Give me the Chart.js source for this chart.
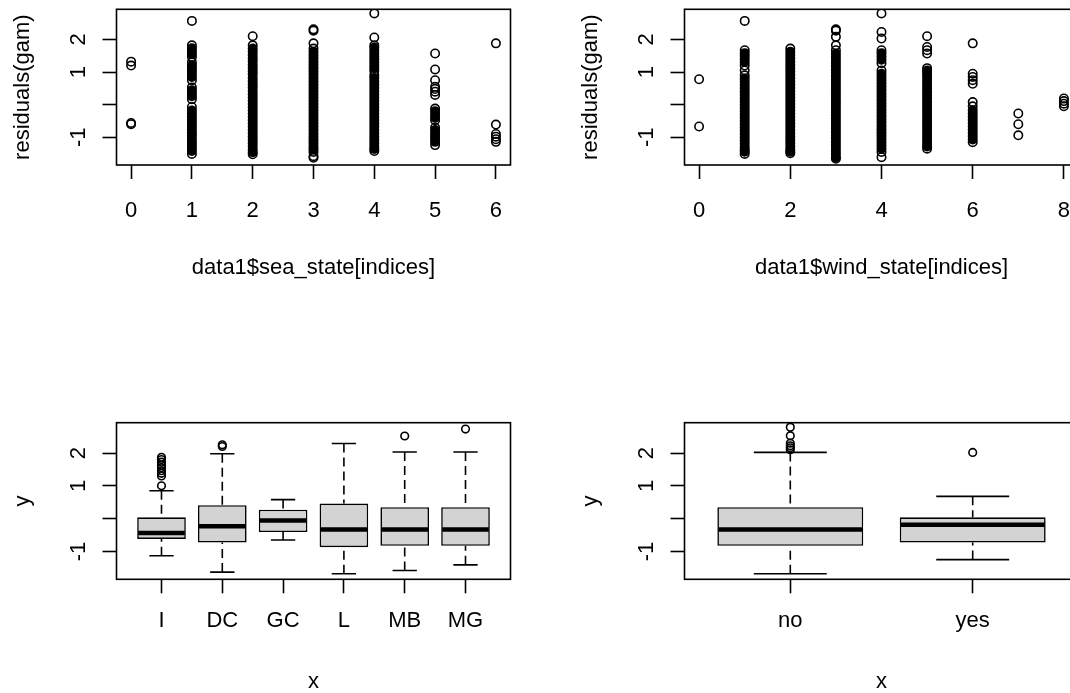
<!DOCTYPE html>
<html>
<head>
<meta charset="utf-8">
<script src="https://cdn.jsdelivr.net/npm/chart.js@4.4.0/dist/chart.umd.min.js"></script>
<style>
html,body{margin:0;padding:0;background:#fff;overflow:hidden;width:1070px;height:693px;}
#wrap{position:relative;width:1136px;height:826px;}
.p{position:absolute;width:568px;height:413px;}
canvas{display:block;}
</style>
</head>
<body>
<div id="wrap">
  <div class="p" style="left:0;top:0"><canvas id="c1" width="568" height="413"></canvas></div>
  <div class="p" style="left:568px;top:0"><canvas id="c2" width="568" height="413"></canvas></div>
  <div class="p" style="left:0;top:413px"><canvas id="c3" width="568" height="413"></canvas></div>
  <div class="p" style="left:568px;top:413px"><canvas id="c4" width="568" height="413"></canvas></div>
</div>
<script>
// ---------- data ----------
const residTicks = [-1, 0, 1, 2];
const residTickLabels = ['-1', '', '1', '2'];

// residuals(gam) by data1$sea_state[indices]
const seaStateLevels = [0, 1, 2, 3, 4, 5, 6];
const seaState0 = [1.32, 1.20, -0.56, -0.60];
const seaState1 = [2.57, 1.82, 1.73, 1.64, 1.55, 1.46, 1.30, 1.21, 1.12, 1.03, 0.94, 0.85, 0.75, 0.53, 0.44, 0.35, 0.26, 0.17, -0.07, -0.18, -0.27, -0.37, -0.47, -0.57, -0.66, -0.76, -0.86, -0.95, -1.05, -1.15, -1.24, -1.34, -1.42, -1.51];
const seaState2 = [2.10, 1.82, 1.72, 1.63, 1.52, 1.42, 1.33, 1.22, 1.12, 1.02, 0.93, 0.82, 0.72, 0.62, 0.53, 0.42, 0.32, 0.22, 0.12, 0.02, -0.08, -0.18, -0.28, -0.38, -0.48, -0.58, -0.68, -0.78, -0.88, -0.98, -1.08, -1.18, -1.28, -1.38, -1.46, -1.52];
const seaState3 = [2.31, 2.27, 1.88, 1.72, 1.62, 1.52, 1.42, 1.32, 1.22, 1.12, 1.02, 0.92, 0.82, 0.72, 0.62, 0.52, 0.42, 0.32, 0.22, 0.12, 0.02, -0.08, -0.18, -0.28, -0.38, -0.48, -0.58, -0.68, -0.78, -0.88, -0.98, -1.08, -1.18, -1.28, -1.37, -1.45, -1.58, -1.63];
const seaState4 = [2.80, 2.06, 1.82, 1.75, 1.66, 1.57, 1.48, 1.39, 1.30, 1.21, 1.12, 1.03, 0.90, 0.82, 0.72, 0.62, 0.52, 0.42, 0.32, 0.22, 0.12, 0.02, -0.08, -0.18, -0.28, -0.38, -0.48, -0.58, -0.68, -0.78, -0.88, -0.98, -1.08, -1.18, -1.28, -1.36, -1.42];
const seaState5 = [1.57, 1.08, 0.75, 0.55, 0.48, 0.40, 0.30, -0.12, -0.20, -0.30, -0.40, -0.48, -0.70, -0.78, -0.88, -0.97, -1.05, -1.14, -1.24];
const seaState6 = [1.88, -0.61, -0.90, -0.98, -1.06, -1.14];

// residuals(gam) by data1$wind_state[indices]
const windStateLevels = [0, 1, 2, 3, 4, 5, 6, 7, 8];
const windState0 = [0.78, -0.67];
const windState1 = [2.57, 1.67, 1.58, 1.49, 1.40, 1.31, 1.20, 1.05, 0.90, 0.80, 0.70, 0.60, 0.50, 0.40, 0.30, 0.20, 0.10, 0.00, -0.10, -0.20, -0.30, -0.40, -0.50, -0.60, -0.70, -0.80, -0.90, -1.00, -1.10, -1.20, -1.30, -1.38, -1.44, -1.51];
const windState2 = [1.72, 1.62, 1.52, 1.42, 1.32, 1.22, 1.12, 1.02, 0.92, 0.82, 0.72, 0.62, 0.52, 0.42, 0.32, 0.22, 0.12, 0.02, -0.08, -0.18, -0.28, -0.38, -0.48, -0.58, -0.68, -0.78, -0.88, -0.98, -1.08, -1.18, -1.28, -1.38, -1.44, -1.49];
const windState3 = [2.31, 2.27, 2.08, 1.82, 1.67, 1.57, 1.47, 1.37, 1.27, 1.17, 1.07, 0.97, 0.87, 0.77, 0.67, 0.57, 0.47, 0.37, 0.27, 0.17, 0.07, -0.03, -0.13, -0.23, -0.33, -0.43, -0.53, -0.63, -0.73, -0.83, -0.93, -1.03, -1.13, -1.23, -1.33, -1.43, -1.52, -1.62, -1.66];
const windState4 = [2.80, 2.23, 2.03, 1.67, 1.58, 1.48, 1.38, 1.27, 1.05, 0.95, 0.85, 0.75, 0.65, 0.55, 0.45, 0.35, 0.25, 0.15, 0.05, -0.05, -0.15, -0.25, -0.35, -0.45, -0.55, -0.65, -0.75, -0.85, -0.95, -1.05, -1.15, -1.25, -1.35, -1.45, -1.61];
const windState5 = [2.10, 1.77, 1.67, 1.57, 1.12, 1.05, 0.99, 0.90, 0.80, 0.70, 0.60, 0.50, 0.40, 0.30, 0.20, 0.10, 0.00, -0.10, -0.20, -0.30, -0.40, -0.50, -0.60, -0.70, -0.80, -0.90, -1.00, -1.10, -1.20, -1.28, -1.35];
const windState6 = [1.88, 0.95, 0.85, 0.75, 0.64, 0.08, -0.05, -0.17, -0.27, -0.37, -0.47, -0.57, -0.67, -0.77, -0.87, -0.97, -1.07, -1.15];
const windState7 = [-0.27, -0.60, -0.94];
const windState8 = [0.19, 0.11, 0.03, -0.05];

// boxplot y ~ x (six groups)
const groupCats = ['I', 'DC', 'GC', 'L', 'MB', 'MG'];
const groupWhiskerLo = [-1.13, -1.63, -0.65, -1.68, -1.58, -1.41];
const groupQ1 = [-0.62, -0.73, -0.41, -0.87, -0.83, -0.83];
const groupMedian = [-0.44, -0.23, -0.06, -0.33, -0.33, -0.33];
const groupQ3 = [0.04, 0.41, 0.27, 0.46, 0.35, 0.35];
const groupWhiskerHi = [0.85, 1.98, 0.58, 2.29, 2.03, 2.03];
const groupOutliers = [[1.00, 1.30, 1.38, 1.46, 1.55, 1.63, 1.72, 1.80, 1.87], [2.20, 2.25], [], [], [2.52], [2.73]];

// boxplot y ~ x (no / yes)
const flagCats = ['no', 'yes'];
const flagWhiskerLo = [-1.68, -1.25];
const flagQ1 = [-0.83, -0.73];
const flagMedian = [-0.33, -0.19];
const flagQ3 = [0.35, 0.04];
const flagWhiskerHi = [2.02, 0.68];
const flagOutliers = [[2.10, 2.16, 2.22, 2.30, 2.53, 2.79], [2.02]];

// ---------- styling / helpers ----------
const FONT_FAMILY = "'Liberation Sans', Arial, Helvetica, sans-serif";
const FS = 22;
const Y_MIN = -1.85, Y_MAX = 2.925;

const rFrame = {
  id: 'rFrame',
  afterDraw(chart) {
    const {ctx, chartArea: a} = chart;
    const ys = chart.scales.y;
    ctx.save();
    ctx.strokeStyle = '#000';
    ctx.lineWidth = 1.6;
    ctx.strokeRect(a.left, a.top, a.right - a.left, a.bottom - a.top);
    ctx.fillStyle = '#000';
    ctx.font = FS + 'px ' + FONT_FAMILY;
    ctx.textAlign = 'center';
    ctx.textBaseline = 'middle';
    residTicks.forEach((v, i) => {
      const lab = residTickLabels[i];
      if (!lab) return;
      ctx.save();
      ctx.translate(a.left - 38, ys.getPixelForValue(v));
      ctx.rotate(-Math.PI / 2);
      ctx.fillText(lab, 0, 0);
      ctx.restore();
    });
    ctx.restore();
  }
};

function rAxes(o) {
  const font = {family: FONT_FAMILY, size: FS};
  const grid = {display: true, offset: false, drawOnChartArea: false, drawTicks: true, tickLength: 14, tickWidth: 1.6, tickColor: '#000'};
  return {
    x: {
      type: 'linear', min: o.xMin, max: o.xMax, offset: false,
      afterBuildTicks: s => { s.ticks = o.xTicks.map(v => ({value: v})); },
      afterFit: s => { s.height = o.xAxisH; },
      grid: grid,
      border: {display: false},
      ticks: {font: font, color: '#000', padding: o.xTickPad, autoSkip: false, maxRotation: 0, minRotation: 0, callback: v => o.xLabel(v)},
      title: {display: true, text: o.xTitle, font: font, color: '#000', padding: {top: 0, bottom: o.xTitlePad}}
    },
    y: {
      type: 'linear', min: Y_MIN, max: Y_MAX, offset: false,
      afterBuildTicks: s => { s.ticks = residTicks.map(v => ({value: v})); },
      afterFit: s => { s.width = 116.5; },
      grid: grid,
      border: {display: false},
      ticks: {display: false},
      title: {display: true, text: o.yTitle, font: font, color: '#000', padding: {top: 10, bottom: 0}}
    }
  };
}

function scatterPanel(id, levels, cols, xMin, xMax, xTicks, xTitle) {
  const pts = [], filled = [];
  levels.forEach((lv, i) => {
    const ys = cols[i].slice().sort((a, b) => a - b);
    let start = 0;
    for (let k = 1; k <= ys.length; k++) {
      if (k === ys.length || ys[k] - ys[k - 1] > 0.125) {
        const len = k - start;
        for (let j = start; j < k; j++) {
          pts.push({x: lv, y: ys[j]});
          filled.push(len >= 5 && j > start && j < k - 1);
        }
        start = k;
      }
    }
  });
  new Chart(document.getElementById(id), {
    type: 'scatter',
    data: {datasets: [{
      data: pts,
      pointStyle: 'circle',
      pointRadius: 4.2, pointHoverRadius: 4.2,
      pointBorderWidth: 1.6, pointBorderColor: '#000',
      pointBackgroundColor: filled.map(f => f ? '#000' : 'rgba(0,0,0,0)')
    }]},
    options: {
      responsive: false, animation: false, devicePixelRatio: 1, events: [],
      layout: {padding: {top: 9.3, right: 57.5, bottom: 0, left: 0}},
      plugins: {legend: {display: false}, tooltip: {enabled: false}},
      scales: rAxes({xMin, xMax, xTicks, xTitle, yTitle: 'residuals(gam)', xAxisH: 248, xTickPad: 19, xTitlePad: 132, xLabel: v => String(v)})
    },
    plugins: [rFrame]
  });
}

function boxPanel(id, cats, wlo, q1, med, q3, whi, outl, xMin, xMax) {
  const boxes = cats.map((c, i) => ({x: i + 1, y: [q1[i], q3[i]]}));
  const outPts = [];
  outl.forEach((arr, i) => arr.forEach(v => outPts.push({x: i + 1, y: v})));
  const extras = {
    id: 'boxExtras',
    afterDatasetsDraw(chart) {
      const meta = chart.getDatasetMeta(0);
      const ys = chart.scales.y;
      const ctx = chart.ctx;
      ctx.save();
      ctx.strokeStyle = '#000';
      meta.data.forEach((bar, i) => {
        const x = bar.x, hw = bar.width / 2, cw = bar.width / 4;
        ctx.lineWidth = 1.6;
        ctx.lineCap = 'butt';
        ctx.setLineDash([9, 5]);
        ctx.beginPath();
        ctx.moveTo(x, ys.getPixelForValue(whi[i])); ctx.lineTo(x, ys.getPixelForValue(q3[i]));
        ctx.moveTo(x, ys.getPixelForValue(wlo[i])); ctx.lineTo(x, ys.getPixelForValue(q1[i]));
        ctx.stroke();
        ctx.setLineDash([]);
        ctx.beginPath();
        const yh = ys.getPixelForValue(whi[i]), yl = ys.getPixelForValue(wlo[i]);
        ctx.moveTo(x - cw, yh); ctx.lineTo(x + cw, yh);
        ctx.moveTo(x - cw, yl); ctx.lineTo(x + cw, yl);
        ctx.stroke();
        ctx.lineWidth = 4.5;
        ctx.beginPath();
        const ym = ys.getPixelForValue(med[i]);
        ctx.moveTo(x - hw + 1, ym); ctx.lineTo(x + hw - 1, ym);
        ctx.stroke();
      });
      ctx.restore();
    }
  };
  const xTicks = cats.map((c, i) => i + 1);
  new Chart(document.getElementById(id), {
    type: 'bar',
    data: {datasets: [
      {type: 'bar', data: boxes, backgroundColor: '#d3d3d3', borderColor: '#000', borderWidth: 1.6, borderSkipped: false, categoryPercentage: 1, barPercentage: 0.8},
      {type: 'scatter', data: outPts, pointStyle: 'circle', pointRadius: 3.8, pointHoverRadius: 3.8, pointBorderWidth: 1.6, pointBorderColor: '#000', pointBackgroundColor: 'rgba(0,0,0,0)', showLine: false}
    ]},
    options: {
      responsive: false, animation: false, devicePixelRatio: 1, events: [],
      layout: {padding: {top: 9.7, right: 57.5, bottom: 0, left: 0}},
      plugins: {legend: {display: false}, tooltip: {enabled: false}},
      scales: rAxes({xMin, xMax, xTicks, xTitle: 'x', yTitle: 'y', xAxisH: 246.7, xTickPad: 14, xTitlePad: 131, xLabel: v => cats[Math.round(v) - 1]})
    },
    plugins: [rFrame, extras]
  });
}

scatterPanel('c1', seaStateLevels, [seaState0, seaState1, seaState2, seaState3, seaState4, seaState5, seaState6], -0.24, 6.24, [0, 1, 2, 3, 4, 5, 6], 'data1$sea_state[indices]');
scatterPanel('c2', windStateLevels, [windState0, windState1, windState2, windState3, windState4, windState5, windState6, windState7, windState8], -0.32, 8.32, [0, 2, 4, 6, 8], 'data1$wind_state[indices]');
boxPanel('c3', groupCats, groupWhiskerLo, groupQ1, groupMedian, groupQ3, groupWhiskerHi, groupOutliers, 0.26, 6.74);
boxPanel('c4', flagCats, flagWhiskerLo, flagQ1, flagMedian, flagQ3, flagWhiskerHi, flagOutliers, 0.42, 2.58);
</script>
</body>
</html>
